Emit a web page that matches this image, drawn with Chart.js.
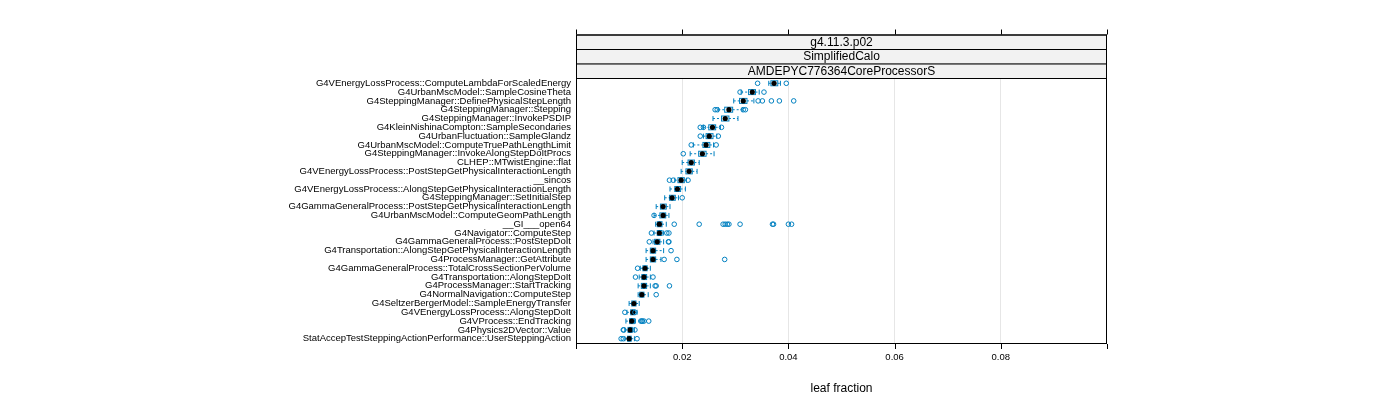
<!DOCTYPE html>
<html><head><meta charset="utf-8">
<script src="https://cdn.jsdelivr.net/npm/chart.js@4"></script>
<style>html,body{margin:0;padding:0;background:#fff}#w{width:1400px;height:400px}</style>
</head><body><div id="w"><canvas id="c"></canvas></div>
<script>
const categories = ["G4VEnergyLossProcess::ComputeLambdaForScaledEnergy","G4UrbanMscModel::SampleCosineTheta","G4SteppingManager::DefinePhysicalStepLength","G4SteppingManager::Stepping","G4SteppingManager::InvokePSDIP","G4KleinNishinaCompton::SampleSecondaries","G4UrbanFluctuation::SampleGlandz","G4UrbanMscModel::ComputeTruePathLengthLimit","G4SteppingManager::InvokeAlongStepDoItProcs","CLHEP::MTwistEngine::flat","G4VEnergyLossProcess::PostStepGetPhysicalInteractionLength","__sincos","G4VEnergyLossProcess::AlongStepGetPhysicalInteractionLength","G4SteppingManager::SetInitialStep","G4GammaGeneralProcess::PostStepGetPhysicalInteractionLength","G4UrbanMscModel::ComputeGeomPathLength","__GI___open64","G4Navigator::ComputeStep","G4GammaGeneralProcess::PostStepDoIt","G4Transportation::AlongStepGetPhysicalInteractionLength","G4ProcessManager::GetAttribute","G4GammaGeneralProcess::TotalCrossSectionPerVolume","G4Transportation::AlongStepDoIt","G4ProcessManager::StartTracking","G4NormalNavigation::ComputeStep","G4SeltzerBergerModel::SampleEnergyTransfer","G4VEnergyLossProcess::AlongStepDoIt","G4VProcess::EndTracking","G4Physics2DVector::Value","StatAccepTestSteppingActionPerformance::UserSteppingAction"];
const medians = [0.0373,0.0332,0.0315,0.0288,0.0281,0.0257,0.0251,0.0245,0.0238,0.0217,0.0213,0.0198,0.0191,0.0181,0.0164,0.0164,0.0157,0.0157,0.0153,0.0145,0.0145,0.0130,0.0128,0.0128,0.0124,0.0109,0.0107,0.0105,0.0102,0.0100];
const whiskerLow = [0.0363,0.0311,0.0297,0.0268,0.0258,0.0240,0.0240,0.0221,0.0215,0.0200,0.0198,0.0186,0.0177,0.0167,0.0151,0.0147,0.0150,0.0147,0.0145,0.0132,0.0132,0.0121,0.0119,0.0117,0.0117,0.0100,0.0096,0.0094,0.0092,0.0092];
const boxLow = [0.0367,0.0325,0.0308,0.0280,0.0274,0.0250,0.0245,0.0239,0.0231,0.0211,0.0207,0.0192,0.0186,0.0176,0.0159,0.0158,0.0153,0.0153,0.0148,0.0140,0.0140,0.0126,0.0124,0.0123,0.0120,0.0105,0.0103,0.0101,0.0098,0.0097];
const boxHigh = [0.0380,0.0338,0.0322,0.0295,0.0288,0.0263,0.0258,0.0252,0.0245,0.0223,0.0219,0.0204,0.0197,0.0187,0.0170,0.0169,0.0162,0.0162,0.0158,0.0150,0.0150,0.0134,0.0133,0.0133,0.0128,0.0113,0.0111,0.0110,0.0106,0.0104];
const whiskerHigh = [0.0385,0.0345,0.0335,0.0313,0.0305,0.0272,0.0265,0.0259,0.0260,0.0232,0.0228,0.0208,0.0206,0.0193,0.0177,0.0175,0.0170,0.0165,0.0165,0.0165,0.0160,0.0140,0.0140,0.0140,0.0136,0.0119,0.0115,0.0112,0.0110,0.0110];
const outliers = [[0.0342,0.0396],[0.0309,0.0354],[0.0343,0.0351,0.0368,0.0383,0.0410],[0.0262,0.0266,0.0315,0.0319],[],[0.0234,0.0240,0.0274],[0.0234,0.0268],[0.0217,0.0264],[0.0202],[],[],[0.0176,0.0183,0.0211],[],[0.0200],[],[0.0147],[0.0185,0.0232,0.0277,0.0281,0.0285,0.0288,0.0309,0.0370,0.0372,0.0400,0.0406],[0.0142,0.0171,0.0175],[0.0138,0.0174,0.0175],[0.0179],[0.0166,0.0190,0.0280],[0.0116],[0.0112,0.0145],[0.0149,0.0151,0.0176],[0.0151],[],[0.0092,0.0111],[0.0122,0.0124,0.0125,0.0128,0.0137],[0.0089,0.0090,0.0111],[0.0085,0.0089,0.0115]];
const xTicks = [0.02,0.04,0.06,0.08];
const stripLabels = ["g4.11.3.p02","SimplifiedCalo","AMDEPYC776364CoreProcessorS"];

const BLUE = '#0080c0';
const outPts = [];
outliers.forEach((a,i)=>a.forEach(v=>outPts.push({x:v,y:i})));
const medPts = medians.map((v,i)=>({x:v,y:i}));

const boxPlugin = {
  id:'box',
  beforeDatasetsDraw(ch){
    const c=ch.ctx, xs=ch.scales.x, ys=ch.scales.y, a=ch.chartArea;
    c.save();
    // strips
    const sh=14.5; 
    stripLabels.forEach((t,k)=>{
      const top=a.top-(3-k)*sh;
      c.fillStyle='#f2f2f2'; c.fillRect(a.left,top,a.right-a.left,sh);
      c.strokeStyle='#000'; c.lineWidth=1; c.strokeRect(a.left+0.5,top+0.5,a.right-a.left-1,sh);
      c.fillStyle='#000'; c.font='12px "Liberation Sans", Arial'; c.textAlign='center'; c.textBaseline='middle';
      c.fillText(t,(a.left+a.right)/2,top+sh/2+0.5);
    });
    // frame
    c.strokeStyle='#000'; c.lineWidth=1;
    c.strokeRect(a.left+0.5,a.top-3*sh+0.5,a.right-a.left-1,a.bottom-a.top+3*sh-1);
    // tick marks
    const tk=[0,...xTicks,0.1];
    tk.forEach(v=>{
      const px=Math.round(xs.getPixelForValue(v))+0.5;
      c.beginPath(); c.moveTo(px,a.bottom); c.lineTo(px,a.bottom+5);
      c.moveTo(px,a.top-3*sh); c.lineTo(px,a.top-3*sh-5); c.stroke();
    });
    // boxes
    c.strokeStyle=BLUE; c.lineWidth=1;
    for(let i=0;i<medians.length;i++){
      const y=ys.getPixelForValue(i);
      const wl=xs.getPixelForValue(whiskerLow[i]), wh=xs.getPixelForValue(whiskerHigh[i]);
      const bl=xs.getPixelForValue(boxLow[i]), bh=xs.getPixelForValue(boxHigh[i]);
      c.setLineDash([2,2]);
      c.beginPath(); c.moveTo(wl,y); c.lineTo(bl,y); c.moveTo(bh,y); c.lineTo(wh,y); c.stroke();
      c.setLineDash([]);
      c.beginPath(); c.moveTo(wl,y-2.5); c.lineTo(wl,y+2.5); c.moveTo(wh,y-2.5); c.lineTo(wh,y+2.5); c.stroke();
      c.strokeRect(bl,y-2.5,bh-bl,5);
    }
    c.restore();
  }
};

new Chart(document.getElementById('c'),{
  type:'scatter',
  data:{datasets:[
    {data:outPts,pointStyle:'circle',pointRadius:2.3,borderColor:BLUE,backgroundColor:'rgba(0,0,0,0)',borderWidth:1,pointHoverRadius:2.3},
    {data:medPts,pointStyle:'circle',pointRadius:2.6,borderColor:'#000',backgroundColor:'#000',borderWidth:0}
  ]},
  options:{
    responsive:true,maintainAspectRatio:false,animation:false,
    layout:{padding:{top:78,right:293,left:0,bottom:0}},
    plugins:{legend:{display:false},tooltip:{enabled:false}},
    scales:{
      x:{type:'linear',min:0,max:0.1,
        afterBuildTicks(s){s.ticks=xTicks.map(v=>({value:v}));},
        afterFit(s){s.height=56;},
        ticks:{color:'#000',font:{size:9.5,family:'"Liberation Sans", Arial'},padding:8,callback:v=>String(v)},
        grid:{color:'#e6e6e6',drawTicks:false},border:{display:false},
        title:{display:true,text:'leaf fraction',color:'#000',font:{size:12,family:'"Liberation Sans", Arial'},padding:{top:2}}
      },
      y:{type:'linear',min:-0.6,max:29.6,reverse:true,
        afterBuildTicks(s){s.ticks=categories.map((_,i)=>({value:i}));},
        afterFit(s){s.width=576;},
        ticks:{color:'#000',autoSkip:false,padding:5,font:{size:9.5,family:'"Liberation Sans", Arial'},callback:(v)=>categories[v]},
        grid:{display:false,drawTicks:false},border:{display:false}
      }
    }
  },
  plugins:[boxPlugin]
});
</script></body></html>
